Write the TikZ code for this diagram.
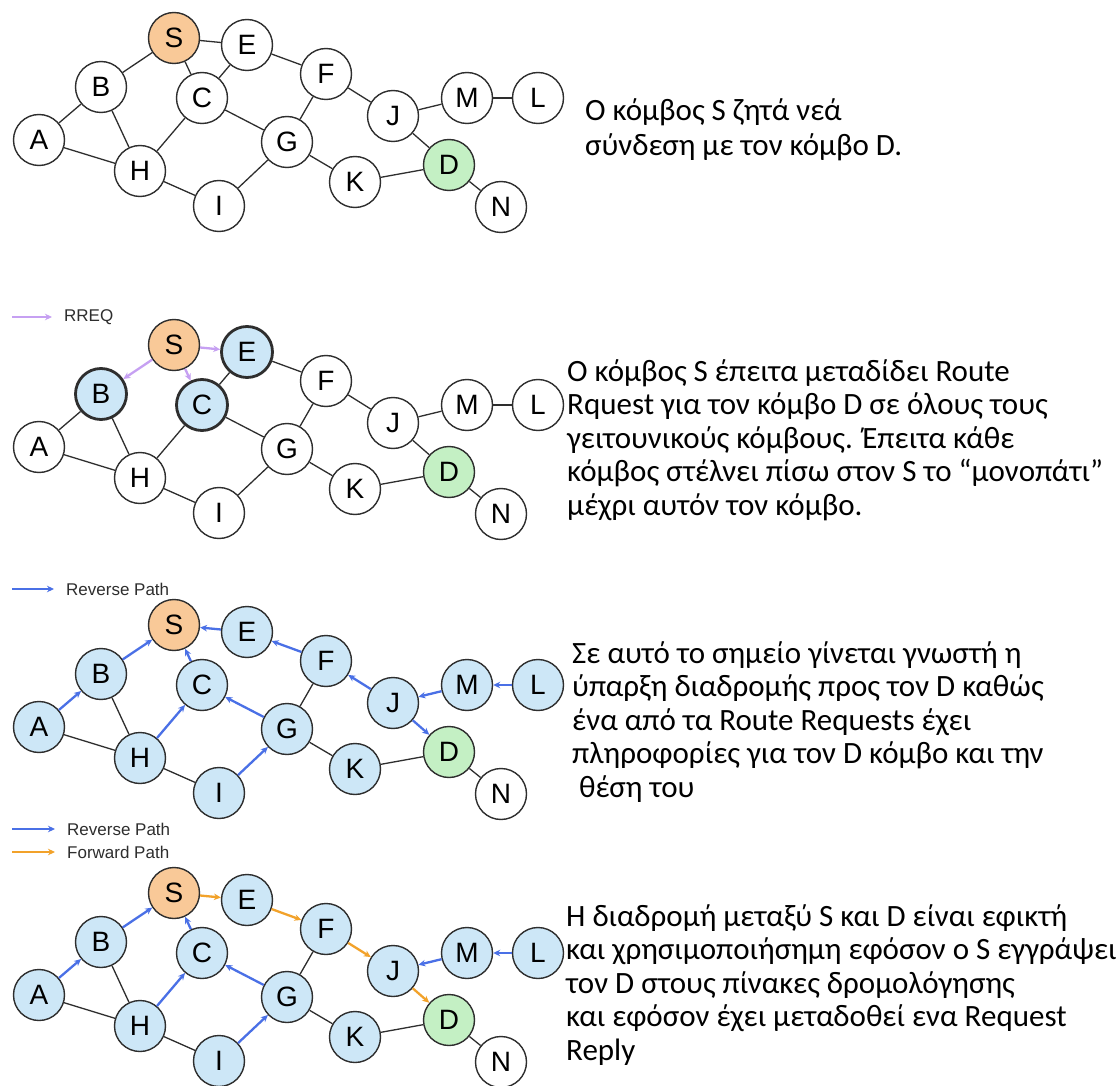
\documentclass[tikz,border=0pt]{standalone}
\usepackage{fontspec}
\setmainfont{Carlito}
\newfontfamily\lblfont{Liberation Sans}
\newfontfamily\txtfont{Carlito}
\usetikzlibrary{arrows.meta}

\definecolor{srcfill}{HTML}{F9C998}
\definecolor{dstfill}{HTML}{C4F0C4}
\definecolor{visfill}{HTML}{CDE7F7}
\definecolor{edgecol}{HTML}{2E2E2E}
\definecolor{rreqcol}{HTML}{C6A0F2}
\definecolor{revcol}{HTML}{4A70E6}
\definecolor{fwdcol}{HTML}{F2A22A}

\tikzset{
  nd/.style={circle, draw=edgecol, line width=1.4pt, minimum size=51pt,
    inner sep=0pt, fill=white, font=\lblfont\fontsize{28}{28}\selectfont},
  visited/.style={fill=visfill},
  reached/.style={fill=visfill, line width=2.8pt},
  nS/.style={fill=srcfill}, nD/.style={fill=dstfill},
  nA/.style={}, nB/.style={}, nC/.style={}, nE/.style={}, nF/.style={},
  nG/.style={}, nH/.style={}, nI/.style={}, nJ/.style={}, nK/.style={},
  nL/.style={}, nM/.style={}, nN/.style={},
  link/.style={draw=edgecol, line width=1.3pt},
  tipped/.style={line width=2.3pt, -{Stealth[length=7pt,width=6.5pt]}},
  rreq/.style={tipped, draw=rreqcol},
  rev/.style={tipped, draw=revcol},
  fwd/.style={tipped, draw=fwdcol},
  desc/.style={anchor=mid west, inner sep=0pt,
    font=\txtfont\fontsize{31}{31}\selectfont},
  lgd/.style={anchor=west, inner sep=0pt, text=edgecol,
    font=\lblfont\fontsize{17}{17}\selectfont}
}

% the fifteen nodes of the network
\newcommand\placegraph{%
  \node[nd,nS] (S) at (174pt,-38pt)  {S};
  \node[nd,nE] (E) at (247pt,-45pt)  {E};
  \node[nd,nB] (B) at (101pt,-87pt)  {B};
  \node[nd,nC] (C) at (202pt,-98pt)  {C};
  \node[nd,nF] (F) at (326pt,-74pt)  {F};
  \node[nd,nJ] (J) at (393pt,-116pt) {J};
  \node[nd,nM] (M) at (467pt,-98pt)  {M};
  \node[nd,nL] (L) at (538pt,-98pt)  {L};
  \node[nd,nA] (A) at (39pt,-140pt)  {A};
  \node[nd,nH] (H) at (140pt,-171pt) {H};
  \node[nd,nG] (G) at (287pt,-142pt) {G};
  \node[nd,nI] (I) at (219pt,-206pt) {I};
  \node[nd,nK] (K) at (355pt,-182pt) {K};
  \node[nd,nD] (D) at (449pt,-165pt) {D};
  \node[nd,nN] (N) at (501pt,-207pt) {N};
}

\begin{document}
\begin{tikzpicture}[x=1pt,y=1pt]
\useasboundingbox (0,0) rectangle (1120,-1086);
\fill[white] (0,0) rectangle (1120,-1086);

% ---- step 1: plain network ----
\begin{scope}[name prefix=one-]
  \placegraph
  \foreach \u/\v in {S/B,S/E,S/C,E/C,E/F,B/A,B/H,A/H,C/H,C/G,H/I,I/G,G/F,G/K,F/J,J/M,M/L,J/D,K/D,D/N}
    \path[link] (\u) -- (\v);
\end{scope}
\node[desc] (t1a) at (585,-118) {Ο κόμβος S ζητά νεά};
\node[desc] (t1b) at (585,-153) {σύνδεση με τον κόμβο D.};

% ---- step 2: route request flooding ----
\begin{scope}[yshift=-307pt, name prefix=two-,
    nB/.style={reached}, nC/.style={reached}, nE/.style={reached}]
  \placegraph
  \foreach \u/\v in {E/C,E/F,B/A,B/H,A/H,C/H,C/G,H/I,I/G,G/F,G/K,F/J,J/M,M/L,J/D,K/D,D/N}
    \path[link] (\u) -- (\v);
  \foreach \u/\v in {S/B,S/E,S/C}
    \path[rreq] (\u) -- (\v);
  \coordinate (k0) at (12,-10);
  \coordinate (k1) at (52,-10);
  \path[rreq, line width=1.6pt] (k0) -- (k1);
  \node[lgd] (k) at (64,-10) {RREQ};
\end{scope}
\node[desc] (t2a) at (567,-379) {Ο κόμβος S έπειτα μεταδίδει Route};
\node[desc] (t2b) at (567,-412.5) {Rquest για τον κόμβο D σε όλους τους};
\node[desc] (t2c) at (567,-446) {γειτουνικούς κόμβους. Έπειτα κάθε};
\node[desc] (t2d) at (567,-479.5) {κόμβος στέλνει πίσω στον S το “μονοπάτι”};
\node[desc] (t2e) at (567,-513) {μέχρι αυτόν τον κόμβο.};

% ---- step 3: reverse paths ----
\begin{scope}[yshift=-587pt, name prefix=three-,
    nA/.style={visited}, nB/.style={visited}, nC/.style={visited},
    nE/.style={visited}, nF/.style={visited}, nG/.style={visited},
    nH/.style={visited}, nI/.style={visited}, nJ/.style={visited},
    nK/.style={visited}, nL/.style={visited}, nM/.style={visited}]
  \placegraph
  \foreach \u/\v in {B/H,A/H,H/I,G/F,G/K,K/D,D/N}
    \path[link] (\u) -- (\v);
  \foreach \u/\v in {A/B,B/S,C/S,E/S,H/C,G/C,I/G,F/E,J/F,M/J,L/M,J/D}
    \path[rev] (\u) -- (\v);
  \coordinate (k0) at (12,-2);
  \coordinate (k1) at (54,-2);
  \path[rev, line width=1.6pt] (k0) -- (k1);
  \node[lgd] (k) at (66,-2) {Reverse Path};
\end{scope}
\node[desc] (t3a) at (572,-661) {Σε αυτό το σημείο γίνεται γνωστή η};
\node[desc] (t3b) at (572,-694.5) {ύπαρξη διαδρομής προς τον D καθώς};
\node[desc] (t3c) at (572,-728) {ένα από τα Route Requests έχει};
\node[desc] (t3d) at (572,-761.5) {πληροφορίες για τον D κόμβο και την};
\node[desc] (t3e) at (572,-795) {\ θέση του};

% ---- step 4: forward path towards D ----
\begin{scope}[yshift=-855pt, name prefix=four-,
    nA/.style={visited}, nB/.style={visited}, nC/.style={visited},
    nE/.style={visited}, nF/.style={visited}, nG/.style={visited},
    nH/.style={visited}, nI/.style={visited}, nJ/.style={visited},
    nK/.style={visited}, nL/.style={visited}, nM/.style={visited}]
  \placegraph
  \foreach \u/\v in {B/H,A/H,H/I,G/F,G/K,K/D,D/N}
    \path[link] (\u) -- (\v);
  \foreach \u/\v in {A/B,B/S,C/S,H/C,G/C,I/G,M/J,L/M}
    \path[rev] (\u) -- (\v);
  \foreach \u/\v in {S/E,E/F,F/J,J/D}
    \path[fwd] (\u) -- (\v);
  \coordinate (r0) at (12,26);
  \coordinate (r1) at (55,26);
  \path[rev, line width=1.6pt] (r0) -- (r1);
  \node[lgd] (r) at (67,26) {Reverse Path};
  \coordinate (f0) at (12,3);
  \coordinate (f1) at (55,3);
  \path[fwd, line width=1.6pt] (f0) -- (f1);
  \node[lgd] (f) at (67,3) {Forward Path};
\end{scope}
\node[desc] (t4a) at (566,-924) {Η διαδρομή μεταξύ S και D είναι εφικτή};
\node[desc] (t4b) at (566,-957.5) {και χρησιμοποιήσημη εφόσον ο S εγγράψει};
\node[desc] (t4c) at (566,-991) {τον D στους πίνακες δρομολόγησης};
\node[desc] (t4d) at (566,-1024.5) {και εφόσον έχει μεταδοθεί ενα Request};
\node[desc] (t4e) at (566,-1058) {Reply};
\end{tikzpicture}
\end{document}
